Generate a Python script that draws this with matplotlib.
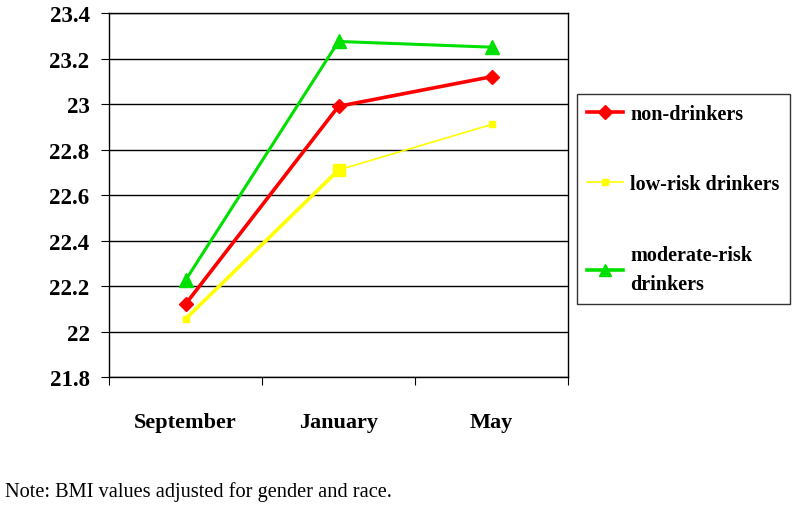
import matplotlib
matplotlib.use("Agg")
import matplotlib.pyplot as plt
from matplotlib.lines import Line2D

plt.rcParams['font.family'] = ['Liberation Serif', 'DejaVu Serif']

# data
meses = ["September", "January", "May"]
non_drinkers = [22.12, 22.99, 23.12]
low_risk = [22.055, 22.71, 22.91]
moderate_risk = [22.225, 23.275, 23.25]
yticks = [21.8, 22.0, 22.2, 22.4, 22.6, 22.8, 23.0, 23.2, 23.4]
ylabels = ["21.8", "22", "22.2", "22.4", "22.6", "22.8", "23", "23.2", "23.4"]

fig = plt.figure(figsize=(8, 5.1), dpi=100)
ax = fig.add_axes([0.13625, 0.2588, 0.57375, 0.7137])

x = [0.5, 1.5, 2.5]

ax.plot(x, moderate_risk, color="#00e000", lw=2.2, marker="^", ms=10, zorder=3)
ax.plot(x, non_drinkers, color="#ff0000", lw=2.6, marker="D", ms=7.5, zorder=4)
# linha amarela: mais grossa no primeiro trecho
ax.plot(x[:2], low_risk[:2], color="#ffff00", lw=2.6, zorder=2)
ax.plot(x[1:], low_risk[1:], color="#ffff00", lw=1.2, zorder=2)
ax.plot(x[0], low_risk[0], color="#ffff00", marker="s", ms=5, ls="none", zorder=2)
ax.plot(x[1], low_risk[1], color="#ffff00", marker="s", ms=9, ls="none", zorder=2)
ax.plot(x[2], low_risk[2], color="#ffff00", marker="s", ms=5, ls="none", zorder=2)

ax.set_xlim(0, 3)
ax.set_ylim(21.8, 23.4)
ax.set_yticks(yticks)
ax.set_yticklabels(ylabels, fontsize=16.5, fontweight="bold")
ax.set_xticks([0, 1, 2, 3])
ax.set_xticklabels([])
ax.set_xticks(x, minor=True)
ax.set_xticklabels(meses, minor=True, fontsize=16, fontweight="bold")
ax.tick_params(axis="x", which="minor", length=0, pad=25)
ax.tick_params(axis="x", which="major", length=6, direction="out", color="black")
ax.tick_params(axis="y", length=6, direction="out", pad=8)
ax.grid(axis="y", color="black", lw=1)
for s in ax.spines.values():
    s.set_color("black")
    s.set_linewidth(1)

handles = [
    Line2D([], [], color="#ff0000", lw=2.6, marker="D", ms=7),
    Line2D([], [], color="#ffff00", lw=1.2, marker="s", ms=4),
    Line2D([], [], color="#00e000", lw=2.6, marker="^", ms=9),
]
leg = fig.legend(handles, ["non-drinkers", "low-risk drinkers", "moderate-risk\ndrinkers"],
                 loc="upper left", bbox_to_anchor=(0.7213, 0.8137), borderaxespad=0,
                 prop={"size": 14.5, "weight": "bold"}, frameon=True, fancybox=False,
                 edgecolor="black", labelspacing=2.5, handlelength=1.8,
                 handletextpad=0.35, borderpad=0.5)
leg.get_frame().set_linewidth(1)
for t in leg.get_texts():
    t.set_linespacing(1.6)

fig.text(0.006, 0.025, "Note: BMI values adjusted for gender and race.", fontsize=14.7)

fig.savefig("out.png", dpi=100)
